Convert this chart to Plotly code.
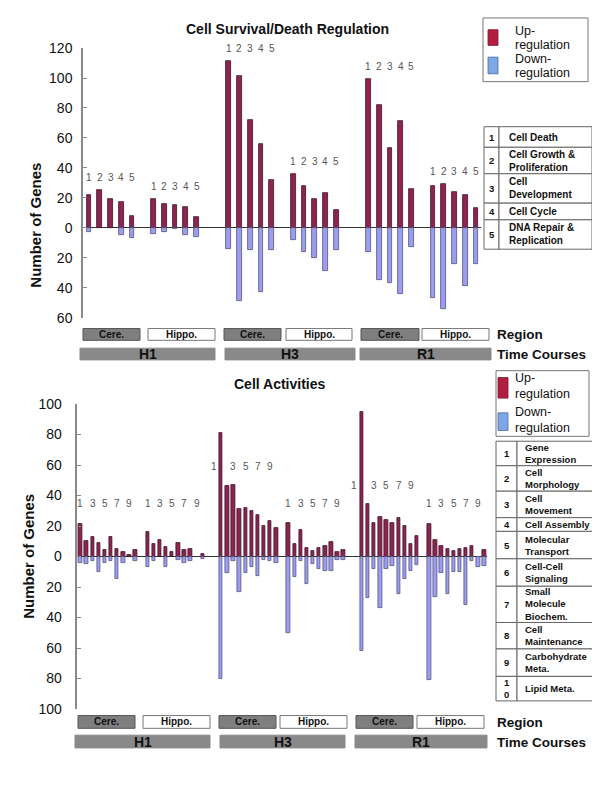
import plotly.graph_objects as go

# ---------------- data ----------------
surv_categories = ["Cell Death", "Cell Growth &<br>Proliferation", "Cell<br>Development",
                   "Cell Cycle", "DNA Repair &<br>Replication"]
act_categories = ["Gene<br>Expression", "Cell<br>Morphology", "Cell<br>Movement", "Cell Assembly",
                  "Molecular<br>Transport", "Cell-Cell<br>Signaling", "Small<br>Molecule<br>Biochem.",
                  "Cell<br>Maintenance", "Carbohydrate<br>Meta.", "Lipid Meta."]
time_courses = ["H1", "H3", "R1"]
regions = ["Cere.", "Hippo."]

surv_h1_cere_up = [22, 25, 19, 17, 8]
surv_h1_cere_down = [3, 0, 0, 5, 7]
surv_h1_hippo_up = [19, 16, 15, 14, 7]
surv_h1_hippo_down = [4, 3, 1, 5, 6]
surv_h3_cere_up = [111, 101, 72, 56, 32]
surv_h3_cere_down = [14, 49, 15, 43, 15]
surv_h3_hippo_up = [36, 28, 19, 23, 12]
surv_h3_hippo_down = [8, 16, 20, 29, 15]
surv_r1_cere_up = [99, 82, 53, 71, 26]
surv_r1_cere_down = [16, 35, 37, 44, 13]
surv_r1_hippo_up = [28, 29, 24, 22, 13]
surv_r1_hippo_down = [47, 54, 24, 39, 24]

act_h1_cere_up = [21, 10, 13, 9, 4, 13, 5, 3, 1, 4]
act_h1_cere_down = [4, 5, 3, 10, 4, 3, 15, 4, 0, 3]
act_h1_hippo_up = [16, 8, 11, 6, 3, 9, 4, 5, 0, 1.5]
act_h1_hippo_down = [7, 3, 0, 7, 0, 2.5, 4, 3, 0, 1.5]
act_h3_cere_up = [81, 46, 47, 31, 32, 30, 27, 20, 23, 19]
act_h3_cere_down = [80, 11, 3, 23, 11, 7, 13, 2, 3, 4]
act_h3_hippo_up = [22, 8, 17.5, 5.7, 3.8, 5.6, 6.8, 9.8, 2.8, 4]
act_h3_hippo_down = [50, 13.5, 3, 17.7, 5.2, 8.4, 9.3, 9.3, 2.6, 2.6]
act_r1_cere_up = [95, 34.6, 21.7, 25.6, 24, 21.7, 25, 20, 8, 13.7]
act_r1_cere_down = [62, 27, 8.2, 33.5, 8.2, 6.5, 24.3, 14.8, 9.3, 5.3]
act_r1_hippo_up = [21.6, 10.7, 6.7, 5, 3.8, 4.9, 5.6, 6.7, 0, 4]
act_r1_hippo_down = [81, 26.5, 11, 24.4, 10.3, 10.3, 32, 3, 7, 6.5]

surv_up = [surv_h1_cere_up, surv_h1_hippo_up, surv_h3_cere_up, surv_h3_hippo_up, surv_r1_cere_up, surv_r1_hippo_up]
surv_down = [surv_h1_cere_down, surv_h1_hippo_down, surv_h3_cere_down, surv_h3_hippo_down, surv_r1_cere_down, surv_r1_hippo_down]
act_up = [act_h1_cere_up, act_h1_hippo_up, act_h3_cere_up, act_h3_hippo_up, act_r1_cere_up, act_r1_hippo_up]
act_down = [act_h1_cere_down, act_h1_hippo_down, act_h3_cere_down, act_h3_hippo_down, act_r1_cere_down, act_r1_hippo_down]

# ---------------- styling ----------------
OFF = 8                      # page body margin of the html page
W, H = 600 - OFF, 800 - OFF
FONT = "Arial, Liberation Sans, sans-serif"
UP_COLOR = "#8E2352"
DOWN_COLOR = "#9C9CF4"
UP_LEG = "#B21D40"
DOWN_LEG = "#7FA6E6"


def pxx(x):
    return (x - OFF) / W


def pyy(y):
    return 1 - (y - OFF) / H


def group_starts(n):
    starts, s = [], 0
    for _t in range(3):
        for r in range(2):
            starts.append(s)
            s += n + (1 if r == 0 else 2)
    return starts


fig = go.Figure()
annotations = []
shapes = []


def add_panel(up_groups, down_groups, xa, ya, width, odd_only):
    n = len(up_groups[0])
    starts = group_starts(n)
    xs, ups, downs = [], [], []
    for g, st in enumerate(starts):
        for i in range(n):
            xs.append(st + i)
            u = up_groups[g][i]
            d = down_groups[g][i]
            ups.append(u if u else None)
            downs.append(-d if d else None)
    fig.add_trace(go.Bar(x=xs, y=ups, width=width, marker=dict(color=UP_COLOR, line=dict(color="#3a1528", width=0.8)),
                         xaxis=xa, yaxis=ya, name="Up-regulation", showlegend=False))
    fig.add_trace(go.Bar(x=xs, y=downs, width=width, marker=dict(color=DOWN_COLOR, line=dict(color="#55557a", width=0.8)),
                         xaxis=xa, yaxis=ya, name="Down-regulation", showlegend=False))
    for g, st in enumerate(starts):
        up = up_groups[g]
        if odd_only:
            ly = max(max(up[1:]) + 12, 35)
        else:
            ly = max(up) + 8.5
        for i in range(n):
            if odd_only and i % 2 == 1:
                continue
            xpos = st + i
            if up[i] > ly - 3:
                xpos -= 1.2
            annotations.append(dict(x=xpos, y=ly, xref=xa, yref=ya, text=str(i + 1), showarrow=False,
                                    font=dict(family=FONT, size=10, color="#555555"),
                                    xanchor="center", yanchor="middle"))
    return starts


add_panel(surv_up, surv_down, "x", "y", 0.45, False)
add_panel(act_up, act_down, "x2", "y2", 0.55, True)

yax_common = dict(showgrid=False, zeroline=True, zerolinecolor="#333333", zerolinewidth=1,
                  showline=True, linecolor="#8a8a8a", linewidth=1.5, ticks="inside", ticklen=4,
                  tickcolor="#8a8a8a", tickfont=dict(family=FONT, size=14, color="#111111"))

fig.update_layout(
    width=W, height=H, margin=dict(l=0, r=0, t=0, b=0),
    paper_bgcolor="white", plot_bgcolor="white", barmode="overlay", bargap=0,
    xaxis=dict(domain=[pxx(83), pxx(481)], range=[-0.56, 36.47], visible=False),
    yaxis=dict(domain=[pyy(316), pyy(40.7)], range=[-60, 120],
               tickvals=list(range(-60, 121, 20)), ticktext=[str(abs(v)) for v in range(-60, 121, 20)],
               ticklabelstandoff=6, **yax_common),
    xaxis2=dict(domain=[pxx(77.3), pxx(487)], range=[-0.49, 66.45], visible=False, anchor="y2"),
    yaxis2=dict(domain=[pyy(715.3), pyy(404)], range=[-100, 100], anchor="x2",
                tickvals=list(range(-100, 101, 20)), ticktext=[str(abs(v)) for v in range(-100, 101, 20)],
                ticklabelstandoff=11, **yax_common),
)


def text(x, y, s, size, anchor="center", color="#111111", bold=True, align="left", angle=0):
    annotations.append(dict(x=pxx(x), y=pyy(y), xref="paper", yref="paper",
                            text=("<b>%s</b>" % s) if bold else s, showarrow=False, xanchor=anchor,
                            yanchor="middle", align=align, textangle=angle,
                            font=dict(family=FONT, size=size, color=color)))


def rect(x0, y0, x1, y1, fill="white", line="#666666", lw=1):
    shapes.append(dict(type="rect", xref="paper", yref="paper", x0=pxx(x0), x1=pxx(x1), y0=pyy(y1), y1=pyy(y0),
                       fillcolor=fill, line=dict(color=line, width=lw), layer="above"))


# titles
text(287, 21, "Cell Survival/Death Regulation", 14)
text(280, 384, "Cell Activities", 14)
text(36, 222, "Number of Genes", 15, angle=-90)
text(29, 560, "Number of Genes", 15, angle=-90)


def region_rows(region_boxes, time_boxes, ry, ty):
    for k, (x0, x1) in enumerate(region_boxes):
        cere = k % 2 == 0
        rect(x0, ry[0], x1, ry[1], fill="#7f7f7f" if cere else "white", line="#555555" if cere else "#777777")
        text((x0 + x1) / 2, (ry[0] + ry[1]) / 2, regions[k % 2], 10)
    for k, (x0, x1) in enumerate(time_boxes):
        rect(x0, ty[0], x1, ty[1], fill="#898989", line="#898989")
        text((x0 + x1) / 2, (ty[0] + ty[1]) / 2, time_courses[k], 14)
    text(495, (ry[0] + ry[1]) / 2 + 0.5, "Region", 13.5, anchor="left")
    text(495, (ty[0] + ty[1]) / 2 + 0.5, "Time Courses", 13.5, anchor="left")


region_rows([(83, 140), (148, 215), (224, 281), (286, 352), (361, 419), (422, 489)],
            [(80, 215), (225, 355), (360, 491)], (327, 339), (347, 359))
region_rows([(78, 135), (143, 210), (219, 276), (280, 347), (356, 413), (417, 484)],
            [(75, 210), (220, 345), (355, 487)], (722, 735), (742, 755))


def legend(x0, y0, x1, y1, sq_up, sq_down, lines_y):
    rect(x0, y0, x1, y1, fill="white", line="#777777")
    rect(sq_up[0], sq_up[1], sq_up[0] + 10, sq_up[2], fill=UP_LEG, line="#7a1a30", lw=0.8)
    rect(sq_down[0], sq_down[1], sq_down[0] + 10, sq_down[2], fill=DOWN_LEG, line="#4a6aa0", lw=0.8)
    for s, yy in zip(["Up-", "regulation", "Down-", "regulation"], lines_y):
        text(513, yy, s, 12.5, anchor="left", bold=False)


legend(483, 10, 588, 75, (488, 22, 38), (488, 50, 67), [23.5, 38, 52, 66.5])
legend(496, 370, 589, 437, (498, 377, 398), (498, 413, 431), [377, 394, 412, 429])


def table(x0, xdiv, x1, rows, labels, numx, textx, numlabels, size):
    for k in range(len(labels)):
        rect(x0, rows[k], xdiv, rows[k + 1], fill="white", line="#666666")
        rect(xdiv, rows[k], x1, rows[k + 1], fill="white", line="#666666")
        ymid = (rows[k] + rows[k + 1]) / 2
        text(numx, ymid, numlabels[k], 9.5)
        text(textx, ymid, labels[k], size, anchor="left")


table(484, 499, 592, [121, 142, 169, 199, 216, 246], surv_categories, 491.5, 507,
      [str(i + 1) for i in range(len(surv_categories))], 10)
table(496, 517, 594, [442, 467, 493, 520, 534, 562, 590, 627, 654, 682, 707], act_categories, 506.5, 523,
      [str(i + 1) if i < 9 else "1<br>0" for i in range(len(act_categories))], 9.5)

fig.update_layout(annotations=annotations, shapes=shapes)
fig.write_html("out.html")
